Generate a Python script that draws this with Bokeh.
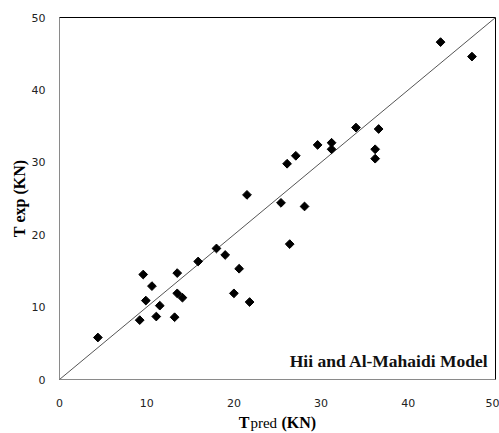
import math
from bokeh.plotting import figure
from bokeh.models import Label, FixedTicker, LinearAxis, Range1d
from bokeh.embed import file_html
from bokeh.resources import INLINE

# Data
t_pred = [4.4, 9.6, 10.6, 9.9, 11.5, 9.2, 11.1, 13.2, 13.5, 13.5, 14.1, 15.9,
          18.0, 19.0, 20.6, 20.0, 21.8, 21.5, 25.4, 26.4, 26.1, 27.1, 28.1,
          29.6, 31.2, 31.2, 34.0, 36.6, 36.2, 36.2, 43.7, 47.3]
t_exp = [5.8, 14.5, 12.9, 10.9, 10.2, 8.2, 8.7, 8.6, 14.7, 11.9, 11.3, 16.3,
         18.1, 17.2, 15.3, 11.9, 10.7, 25.5, 24.4, 18.7, 29.8, 30.9, 23.9,
         32.4, 32.7, 31.8, 34.8, 34.6, 31.8, 30.5, 46.6, 44.6]
line_x = [0, 50]
line_y = [0, 50]
ticks = [0, 10, 20, 30, 40, 50]
model_name = "Hii and Al-Mahaidi Model"
NBSP = "\u00a0"
x_title_main = "T" + NBSP * 8 + "(KN)"
x_title_sub = "pred"
y_title = "T" + NBSP + "exp" + NBSP + "(KN)"

p = figure(width=499, height=433, output_backend="svg", toolbar_location=None,
           x_range=Range1d(0, 50), y_range=Range1d(0, 50),
           min_border_left=59, min_border_right=4, min_border_top=17,
           min_border_bottom=54, x_axis_location=None, y_axis_location=None)
p.grid.visible = False
p.outline_line_color = "black"
p.outline_line_width = 1

serif = "Liberation Serif"
tick_font = "DejaVu Sans"
xa = LinearAxis(ticker=FixedTicker(ticks=ticks), axis_label=x_title_main)
ya = LinearAxis(ticker=FixedTicker(ticks=ticks), axis_label=y_title)
for ax in (xa, ya):
    ax.axis_line_color = "#8a8a8a"
    ax.major_tick_line_color = None
    ax.minor_tick_line_color = None
    ax.major_tick_out = 0
    ax.major_tick_in = 0
    ax.major_label_text_font = tick_font
    ax.major_label_text_font_size = "11px"
    ax.major_label_text_color = "#222222"
    ax.axis_label_text_font = serif
    ax.axis_label_text_font_style = "bold"
    ax.axis_label_text_font_size = "16px"
    ax.axis_label_text_color = "black"
xa.major_label_standoff = 19
ya.major_label_standoff = 14
xa.axis_label_standoff = 4
ya.axis_label_standoff = 1
p.add_layout(xa, "below")
p.add_layout(ya, "left")

p.line(line_x, line_y, line_color="#555555", line_width=1)
p.scatter(t_pred, t_exp, marker="square", angle=math.pi / 4, size=6.2,
          fill_color="black", line_color="black")

# smaller "pred" part of the x axis title (side-panel annotations are not clipped)
p.add_layout(Label(x=21.9, y=-6.0, text=x_title_sub, text_baseline="alphabetic",
                   text_font=serif, text_font_size="15px", text_color="black"), "above")

p.add_layout(Label(x=49.2, y=1.2, text=model_name, text_align="right", text_font=serif,
                   text_font_style="bold", text_font_size="17.5px", text_color="#111111"))

open("out.html", "w").write(file_html(p, INLINE))
